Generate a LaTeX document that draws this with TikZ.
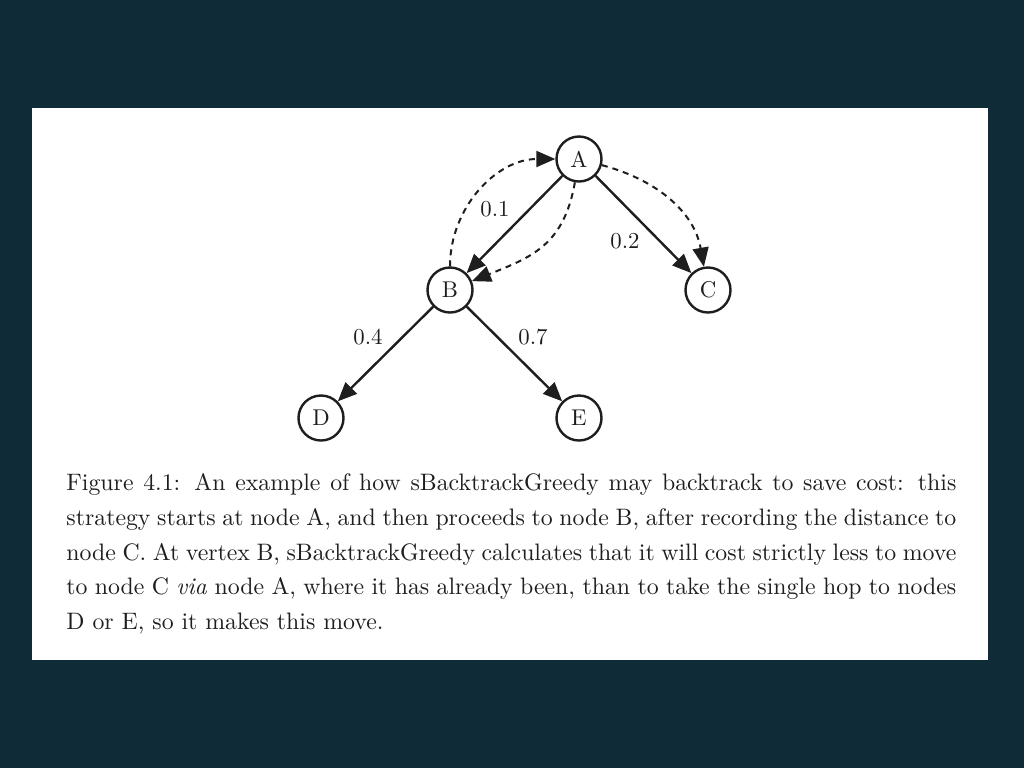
\documentclass[tikz,border=0pt]{standalone}
\usepackage{fontspec}
\setmainfont{lmroman10-regular}[Extension=.otf,ItalicFont=lmroman10-italic,BoldFont=lmroman10-bold]
\usetikzlibrary{arrows.meta}
\definecolor{bgdark}{HTML}{0F2B38}
\definecolor{inkcol}{HTML}{1E1E1E}
\begin{document}
\begin{tikzpicture}[x=0.5pt,y=-0.5pt,
  vertex/.style={circle,draw=inkcol,text=inkcol,line width=1.2pt,minimum size=22.5pt,inner sep=0pt,font=\fontsize{11.4}{14}\selectfont},
  solidarrow/.style={draw=inkcol,line width=1.2pt,-{Triangle[length=9.5pt,width=8pt]}},
  dasharrow/.style={draw=inkcol,line width=1pt,dash pattern=on 3pt off 2.5pt,-{Triangle[length=9.5pt,width=8pt]}},
  lbl/.style={text=inkcol,font=\fontsize{11.4}{14}\selectfont,inner sep=0pt}]
\useasboundingbox (0,0) rectangle (1024,768);
\fill[bgdark] (0,0) rectangle (1024,768);
\fill[white] (32,108) rectangle (988,660);

\node[vertex] (A) at (579,159) {A};
\node[vertex] (B) at (450,290) {B};
\node[vertex] (C) at (708,290) {C};
\node[vertex] (D) at (321,418) {D};
\node[vertex] (E) at (579,418) {E};

\draw[solidarrow] (A) -- (B);
\draw[solidarrow] (A) -- (C);
\draw[solidarrow] (B) -- (D);
\draw[solidarrow] (B) -- (E);

\draw[dasharrow] (B) to[out=90,in=180] (A);
\draw[dasharrow] (A) to[out=-100,in=22,looseness=1.15] (B);
\draw[dasharrow] (A) to[out=-15,in=100] (C);

\node[lbl] (l1) at (495,209) {0.1};
\node[lbl] (l2) at (625,241) {0.2};
\node[lbl] (l4) at (368,337) {0.4};
\node[lbl] (l7) at (533,337) {0.7};

\node[anchor=north west,text width=445pt,align=justify,inner sep=0pt,text=inkcol,
      font=\fontsize{11.9}{17.4}\selectfont] (cap) at (66,473)
 {Figure 4.1: An example of how sBacktrackGreedy may backtrack to save cost: this\linebreak
  strategy starts at node A, and then proceeds to node B, after recording the distance to\linebreak
  node C. At vertex B, sBacktrackGreedy calculates that it will cost strictly less to move\linebreak
  to node C \emph{via} node A, where it has already been, than to take the single hop to nodes\linebreak
  D or E, so it makes this move.};
\end{tikzpicture}
\end{document}
